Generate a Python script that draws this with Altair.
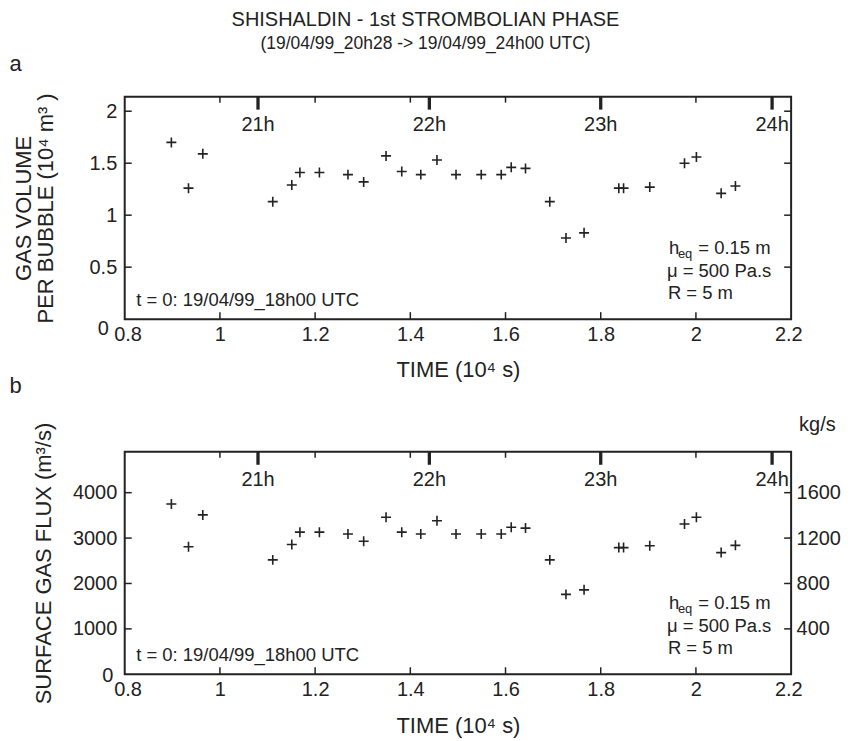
import altair as alt
import pandas as pd

# ---------------- data ----------------
time_1e4s = [0.898, 0.934, 0.964, 1.111, 1.151, 1.168, 1.209, 1.269, 1.302, 1.349,
             1.382, 1.422, 1.456, 1.496, 1.549, 1.591, 1.612, 1.642, 1.693, 1.727,
             1.765, 1.838, 1.848, 1.903, 1.976, 2.001, 2.053, 2.083]
gas_volume = [1.70, 1.26, 1.59, 1.13, 1.29, 1.41, 1.41, 1.39, 1.32, 1.57,
              1.42, 1.39, 1.53, 1.39, 1.39, 1.39, 1.46, 1.45, 1.13, 0.78,
              0.83, 1.26, 1.26, 1.27, 1.50, 1.56, 1.21, 1.28]
gas_flux = [3750, 2810, 3510, 2520, 2860, 3130, 3130, 3090, 2930, 3460,
            3130, 3090, 3380, 3090, 3090, 3090, 3240, 3220, 2520, 1760,
            1860, 2790, 2790, 2830, 3310, 3460, 2680, 2840]

x_tick_values = [0.8, 1.0, 1.2, 1.4, 1.6, 1.8, 2.0, 2.2]
x_inner_ticks = [1.0, 1.2, 1.4, 1.6, 1.8, 2.0]
hour_labels = ["21h", "22h", "23h", "24h"]
hour_times = [1.08, 1.44, 1.80, 2.16]
vol_ticks = [0, 0.5, 1, 1.5, 2]
flux_ticks = [0, 1000, 2000, 3000, 4000]
kg_ticks = [400, 800, 1200, 1600]

title_text = "SHISHALDIN - 1st STROMBOLIAN PHASE"
subtitle_text = "(19/04/99_20h28 -> 19/04/99_24h00 UTC)"
t0_text = "t = 0: 19/04/99_18h00 UTC"
param_lines = ["= 0.15 m", "\u03bc = 500 Pa.s", "R = 5 m"]

# ---------------- styling ----------------
W, H = 668, 223
FONT = "Liberation Sans"
INK = "#222222"

df = pd.DataFrame({"t": time_1e4s, "v": gas_volume, "f": gas_flux})
one = pd.DataFrame({"k": [0]})

xscale = alt.Scale(domain=[0.8, 2.2], nice=False, zero=False)
vscale = alt.Scale(domain=[0, 2.14], nice=False)
fscale = alt.Scale(domain=[0, 4900], nice=False)
kscale = alt.Scale(domain=[0, 1960], nice=False)

X_AXIS = alt.Axis(values=x_tick_values, format="~g", title="TIME (10\u2074 s)",
                  orient="bottom", ticks=False, domain=False, grid=False,
                  labelFlush=True, labelFlushOffset=11, labelPadding=5, titlePadding=16,
                  labelFontSize=20, titleFontSize=22, titleFontWeight="normal",
                  labelColor=INK, titleColor=INK, labelFont=FONT, titleFont=FONT)


def y_axis(values, title, fmt, title_pad, orient="left", zero_pad=8, zero_off=0):
    kw = dict(values=values, format=fmt, orient=orient, ticks=False, domain=False,
              grid=False, labelFontSize=20, labelColor=INK, labelFont=FONT)
    if orient == "left":
        kw["labelPadding"] = {"condition": {"test": "datum.value == 0", "value": zero_pad}, "value": 8}
        kw["labelOffset"] = {"condition": {"test": "datum.value == 0", "value": zero_off}, "value": 0}
    else:
        kw["labelPadding"] = 5
    if title is None:
        kw["title"] = None
    else:
        kw.update(title=title, titlePadding=title_pad, titleFontSize=22,
                  titleFontWeight="normal", titleColor=INK, titleFont=FONT,
                  titleLineHeight=22)
    return alt.Axis(**kw)


V_AXIS = y_axis(vol_ticks, ["GAS VOLUME", "PER BUBBLE (10\u2074 m\u00b3 )"], "~g", 32,
                zero_pad=16.5, zero_off=9)
F_AXIS = y_axis(flux_ticks, "SURFACE GAS FLUX (m\u00b3/s)", "d", 17,
                zero_pad=12, zero_off=1)
K_AXIS = y_axis(kg_ticks, None, "d", 0, orient="right")


def X():
    return alt.X("t:Q", scale=xscale, axis=X_AXIS)


def text(txt, x, y, size=18.5, align="left", baseline="middle"):
    return alt.Chart(one).mark_text(text=txt, align=align, baseline=baseline,
                                    font=FONT, fontSize=size, color=INK).encode(
        x=alt.value(x), y=alt.value(y))


def common_layers():
    xd_in = pd.DataFrame({"t": x_inner_ticks})
    hd = pd.DataFrame({"t": hour_times, "lab": hour_labels})
    xbot = alt.Chart(xd_in).mark_rule(color=INK, strokeWidth=1.5).encode(
        x=X(), y=alt.value(H), y2=alt.value(H - 7))
    xtop = alt.Chart(xd_in).mark_rule(color=INK, strokeWidth=1.5).encode(
        x=X(), y=alt.value(0), y2=alt.value(6))
    htick = alt.Chart(hd).mark_rule(color=INK, strokeWidth=3.3).encode(
        x=X(), y=alt.value(0), y2=alt.value(13))
    htext = alt.Chart(hd).mark_text(font=FONT, fontSize=20, color=INK,
                                    baseline="middle", align="center").encode(
        x=X(), y=alt.value(28), text="lab:N")
    t0 = text(t0_text, 11.5, 204)
    h1 = text("h", 545.5, 152)
    h2 = text("eq", 554.5, 158, size=13)
    p1 = text(param_lines[0], 575, 152)
    p2 = text(param_lines[1], 543.5, 175)
    p3 = text(param_lines[2], 544.5, 197)
    return [xbot, xtop, htick, htext, t0, h1, h2, p1, p2, p3]


def plus_points(field, scale, axis):
    return alt.Chart(df).mark_point(shape="M-1,0H1M0,-1V1", size=100, filled=False,
                                    stroke=INK, strokeWidth=1.6, opacity=1).encode(
        x=X(), y=alt.Y(field, scale=scale, axis=axis))


# ---------------- top panel ----------------
vt = pd.DataFrame({"v": vol_ticks[1:]})
top_pts = plus_points("v:Q", vscale, V_AXIS)
top_yl = alt.Chart(vt).mark_rule(color=INK, strokeWidth=1.5).encode(
    y=alt.Y("v:Q", scale=vscale, axis=V_AXIS), x=alt.value(0), x2=alt.value(7))
top_yr = alt.Chart(vt).mark_rule(color=INK, strokeWidth=1.5).encode(
    y=alt.Y("v:Q", scale=vscale, axis=V_AXIS), x=alt.value(W - 7), x2=alt.value(W))
top = alt.layer(
    top_pts, top_yl, top_yr, *common_layers(),
    text(title_text, 301.5, -77, size=20, align="center"),
    text(subtitle_text, 301.5, -53, size=17.5, align="center"),
    text("a", -115.5, -33, size=22),
).properties(width=W, height=H)

# ---------------- bottom panel ----------------
ft = pd.DataFrame({"f": flux_ticks[1:]})
bot_pts = plus_points("f:Q", fscale, F_AXIS)
bot_yl = alt.Chart(ft).mark_rule(color=INK, strokeWidth=1.5).encode(
    y=alt.Y("f:Q", scale=fscale, axis=F_AXIS), x=alt.value(0), x2=alt.value(7))
left_part = alt.layer(
    bot_pts, bot_yl, *common_layers(),
    text("b", -115.5, -59, size=22, baseline="alphabetic"),
    text("kg/s", W + 8, -21, size=20, baseline="alphabetic"),
)
kd = pd.DataFrame({"kg": kg_ticks})
right_part = alt.Chart(kd).mark_rule(color=INK, strokeWidth=1.5).encode(
    y=alt.Y("kg:Q", scale=kscale, axis=K_AXIS),
    x=alt.value(W - 7), x2=alt.value(W))
bottom = alt.layer(left_part, right_part).resolve_scale(y="independent").properties(width=W, height=H)

chart = alt.vconcat(top, bottom, spacing=-8).properties(padding=0).configure_view(
    stroke=INK, strokeWidth=2)

chart.save("out.html", embed_options={"renderer": "svg", "actions": False})
